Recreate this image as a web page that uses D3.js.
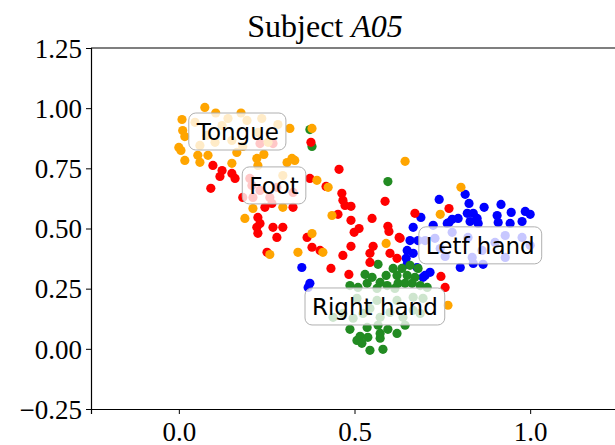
<!DOCTYPE html>
<html><head><meta charset="utf-8">
<script src="https://cdn.jsdelivr.net/npm/d3@7"></script>
<style>body{margin:0;background:#fff}svg{display:block}</style>
</head><body>
<svg id="chart" width="615" height="445"></svg>
<script>
const title = "Subject ";
const titleItalic = "A05";
const xTicks = [0.0, 0.5, 1.0];
const yTicks = [-0.25, 0.0, 0.25, 0.5, 0.75, 1.0, 1.25];
const classes = ["Letf hand", "Right hand", "Foot", "Tongue"];
const colors = ["#0000ff", "#228b22", "#ff0000", "#ffa500"];

const leftHandX = [0.667,0.689,0.741,0.815,0.826,0.869,0.917,0.946,0.986,1.000,0.906,0.909,0.943,0.977,0.724,0.769,0.778,0.795,0.821,0.838,0.852,0.849,0.829,0.658,0.650,0.667,0.647,0.801,0.715,0.695,0.838,0.866,0.701,0.350,0.373,0.368,0.678,0.650,0.681,0.764,0.701,0.729,0.778,0.823,0.863,0.900,0.929,0.977,1.000,0.929,0.835,0.758,0.744];
const leftHandY = [0.505,0.546,0.621,0.642,0.604,0.588,0.600,0.567,0.571,0.559,0.554,0.525,0.521,0.529,0.513,0.525,0.538,0.542,0.563,0.563,0.521,0.542,0.529,0.450,0.409,0.397,0.376,0.338,0.318,0.297,0.355,0.351,0.305,0.338,0.272,0.255,0.338,0.351,0.450,0.521,0.450,0.459,0.484,0.463,0.409,0.442,0.471,0.463,0.430,0.380,0.380,0.384,0.417];

const rightHandX = [0.373,0.379,0.595,0.567,0.530,0.550,0.573,0.590,0.610,0.621,0.635,0.658,0.681,0.650,0.672,0.624,0.644,0.664,0.536,0.564,0.593,0.615,0.687,0.707,0.487,0.510,0.439,0.467,0.496,0.524,0.544,0.573,0.601,0.638,0.667,0.687,0.507,0.564,0.621,0.667,0.695,0.487,0.536,0.567,0.595,0.621,0.644,0.516,0.538,0.573,0.507,0.521,0.544,0.581,0.573];
const rightHandY = [0.911,0.841,0.695,0.351,0.309,0.297,0.276,0.305,0.334,0.305,0.334,0.347,0.334,0.305,0.297,0.272,0.272,0.272,0.272,0.251,0.263,0.251,0.263,0.255,0.263,0.255,0.131,0.147,0.127,0.147,0.168,0.131,0.151,0.131,0.160,0.147,0.210,0.201,0.201,0.214,0.210,0.081,0.089,0.098,0.081,0.064,0.098,0.052,0.048,0.044,0.035,0.023,-0.006,-0.002,0.064];

const footX = [0.097,0.123,0.117,0.151,0.160,0.091,0.182,0.208,0.245,0.265,0.325,0.225,0.231,0.268,0.296,0.225,0.279,0.365,0.379,0.402,0.251,0.268,0.231,0.376,0.373,0.456,0.464,0.467,0.473,0.490,0.453,0.490,0.499,0.513,0.550,0.587,0.595,0.598,0.627,0.672,0.769,0.601,0.621,0.630,0.746,0.758,0.433,0.467,0.490,0.484,0.544,0.553,0.544,0.202,0.231,0.259,0.279,0.325,0.211,0.222,0.419];
const footY = [0.762,0.741,0.716,0.729,0.708,0.667,0.629,0.679,0.588,0.604,0.588,0.546,0.521,0.505,0.505,0.480,0.463,0.463,0.422,0.409,0.401,0.853,0.853,0.858,0.708,0.746,0.646,0.617,0.596,0.592,0.559,0.534,0.484,0.500,0.542,0.613,0.509,0.488,0.463,0.563,0.583,0.397,0.376,0.459,0.301,0.255,0.334,0.388,0.426,0.309,0.397,0.426,0.359,0.708,0.658,0.629,0.671,0.650,0.629,0.505,0.675];

const tongueX = [0.074,0.105,0.177,0.009,0.011,0.017,0.000,0.006,0.017,0.054,0.060,0.083,0.151,0.165,0.222,0.225,0.242,0.316,0.379,0.308,0.330,0.322,0.393,0.425,0.436,0.379,0.339,0.259,0.188,0.211,0.296,0.644,0.803,0.744,0.590,0.410,0.766,0.296,0.046,0.080,0.123,0.151,0.194,0.225,0.254,0.282,0.060,0.182,0.236,0.103,0.140];
const tongueY = [1.003,0.980,0.980,0.953,0.907,0.882,0.837,0.824,0.783,0.804,0.775,0.804,0.771,0.816,0.791,0.762,0.808,0.916,0.916,0.774,0.783,0.791,0.700,0.671,0.554,0.479,0.401,0.392,0.542,0.583,0.588,0.779,0.671,0.559,0.438,0.401,0.181,0.720,0.941,0.887,0.928,0.866,0.949,0.899,0.858,0.932,0.845,0.841,0.957,0.858,0.957];

const seriesX = [leftHandX, rightHandX, footX, tongueX];
const seriesY = [leftHandY, rightHandY, footY, tongueY];
const labelX = [0.858, 0.558, 0.271, 0.168];
const labelY = [0.430, 0.176, 0.679, 0.903];

const svg = d3.select("#chart");
const x = d3.scaleLinear().domain([-0.25, 1.25]).range([91, 618]);
const y = d3.scaleLinear().domain([-0.25, 1.25]).range([409, 48]);
const serif = "'Liberation Serif','Times New Roman',serif";

// points
seriesX.forEach((xs, k) => {
  svg.append("g").selectAll("circle").data(xs.map((v, i) => [v, seriesY[k][i]]))
    .join("circle")
    .attr("cx", d => x(d[0])).attr("cy", d => y(d[1])).attr("r", 4.6)
    .attr("fill", colors[k]);
});

// axes
const xAxis = svg.append("g").attr("transform", "translate(0,409)")
  .call(d3.axisBottom(x).tickValues(xTicks).tickFormat(d3.format(".1f")).tickSizeOuter(0).tickSize(5));
const yAxis = svg.append("g").attr("transform", "translate(91,0)")
  .call(d3.axisLeft(y).tickValues(yTicks).tickFormat(d => d3.format(".2f")(d).replace("-", "\u2212")).tickSizeOuter(0).tickSize(5));
[xAxis, yAxis].forEach(a => {
  a.select(".domain").attr("stroke", "#000").attr("stroke-width", 1.2);
  a.selectAll(".tick line").attr("stroke", "#000").attr("stroke-width", 1);
  a.selectAll("text").attr("font-family", serif).attr("font-size", 27).attr("fill", "#000");
});
xAxis.selectAll("text").attr("dy", null).attr("y", 32);
yAxis.selectAll("text").attr("x", -9).attr("dy", "0.34em");
// top and right spines
svg.append("line").attr("x1", 91).attr("x2", 618).attr("y1", 48).attr("y2", 48).attr("stroke", "#000").attr("stroke-width", 1.2);
svg.append("line").attr("x1", 618).attr("x2", 618).attr("y1", 48).attr("y2", 409).attr("stroke", "#000").attr("stroke-width", 1.2);

// title
const t = svg.append("text").attr("x", 325).attr("y", 37).attr("text-anchor", "middle")
  .attr("font-family", serif).attr("font-size", 32).attr("fill", "#000");
t.append("tspan").text(title);
t.append("tspan").attr("font-style", "italic").text(titleItalic);

// class labels
const fs = 23, pad = 7;
classes.forEach((name, k) => {
  const g = svg.append("g");
  const cy = y(labelY[k]);
  const tx = g.append("text").attr("x", x(labelX[k])).attr("y", cy)
    .attr("text-anchor", "middle").attr("dy", "0.36em")
    .attr("font-family", "'DejaVu Sans',sans-serif").attr("font-size", fs).attr("fill", "#000").text(name);
  const bb = tx.node().getBBox();
  g.insert("rect", "text")
    .attr("x", bb.x - pad).attr("y", cy - fs / 2 - pad)
    .attr("width", bb.width + 2 * pad).attr("height", fs + 2 * pad)
    .attr("rx", pad).attr("ry", pad)
    .attr("fill", "#fff").attr("fill-opacity", 0.78)
    .attr("stroke", "#b0b0b0").attr("stroke-width", 1);
});
</script>
</body></html>
